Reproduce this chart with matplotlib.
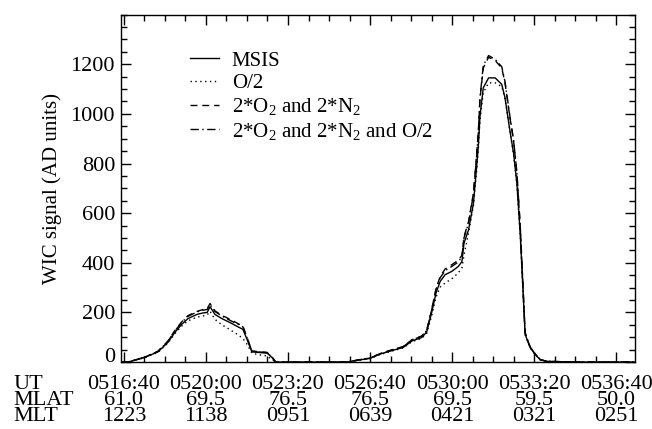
import matplotlib
matplotlib.use("Agg")
import matplotlib.pyplot as plt
import matplotlib.transforms as mtransforms
from matplotlib.ticker import MultipleLocator

plt.rcParams["font.family"] = ["Liberation Serif", "DejaVu Serif"]
plt.rcParams["mathtext.fontset"] = "custom"
plt.rcParams["mathtext.rm"] = "Liberation Serif"
plt.rcParams["mathtext.it"] = "Liberation Serif:italic"
plt.rcParams["font.size"] = 16

# UT in seconds of day
ut_sec = [18995, 19010, 19051, 19083, 19107, 19124, 19141, 19156, 19178, 19193,
          19203, 19210, 19222, 19239, 19259, 19278, 19290, 19300, 19312, 19327,
          19349, 19361, 19370, 19450, 19543, 19576, 19600, 19624, 19657, 19681,
          19702, 19726, 19738, 19750, 19761, 19771, 19783, 19799, 19815, 19824,
          19829, 19840, 19852, 19860, 19864, 19868, 19876, 19889, 19905, 19921,
          19929, 19941, 19950, 19958, 19966, 19972, 19978, 19990, 20002, 20015,
          20031, 20100, 20246]

msis = [0, 0, 19, 41, 79, 119, 152, 175, 192, 198,
        200, 223, 192, 175, 159, 142, 132, 92, 41, 39,
        36, 19, 0, 0, 0, 9, 15, 32, 48, 59,
        85, 99, 121, 198, 279, 325, 352, 365, 385, 405,
        479, 532, 639, 790, 870, 990, 1105, 1145, 1145, 1119,
        1065, 932, 840, 719, 519, 319, 112, 59, 32, 9,
        3, 0, 0]

o_half = [0, 0, 18, 39, 76, 114, 145, 166, 181, 186,
          190, 205, 172, 150, 130, 110, 95, 72, 36, 30,
          25, 10, 0, 0, 0, 8, 14, 30, 46, 57,
          82, 96, 115, 185, 262, 302, 319, 335, 359, 380,
          430, 520, 630, 775, 860, 975, 1085, 1125, 1125, 1110,
          1060, 930, 835, 715, 515, 315, 110, 58, 31, 9,
          3, 0, 0]

o2_n2 = [0, 0, 20, 44, 84, 127, 162, 187, 204, 212,
         215, 236, 206, 188, 172, 155, 145, 100, 45, 42,
         39, 20, 0, 0, 0, 10, 16, 34, 51, 63,
         90, 105, 128, 210, 297, 345, 375, 392, 410, 430,
         505, 565, 680, 840, 930, 1060, 1185, 1228, 1215, 1185,
         1125, 985, 890, 760, 550, 335, 118, 62, 34, 10,
         3, 0, 0]

o2_n2_ohalf = [0, 0, 20, 43, 83, 125, 160, 184, 202, 209,
               212, 232, 204, 185, 168, 152, 142, 98, 44, 41,
               38, 20, 0, 0, 0, 10, 16, 34, 51, 62,
               89, 104, 127, 208, 294, 340, 368, 385, 403, 425,
               500, 560, 675, 835, 925, 1065, 1195, 1235, 1220, 1190,
               1130, 990, 893, 765, 552, 337, 119, 62, 34, 10,
               3, 0, 0]

tick_sec = [19000, 19200, 19400, 19600, 19800, 20000, 20200]
ut_labels = ["0516:40", "0520:00", "0523:20", "0526:40", "0530:00", "0533:20", "0536:40"]
mlat_labels = ["61.0", "69.5", "76.5", "76.5", "69.5", "59.5", "50.0"]
mlt_labels = ["1223", "1138", "0951", "0639", "0421", "0321", "0251"]

fig = plt.figure(figsize=(6.52, 4.29), dpi=100)
ax = fig.add_axes([0.185, 0.156, 0.789, 0.810])

ax.plot(ut_sec, msis, color="black", lw=1.0, ls="-", label="MSIS")
ax.plot(ut_sec, o_half, color="black", lw=1.0, ls=(0, (1, 2.5)), label="O/2")
ax.plot(ut_sec, o2_n2, color="black", lw=1.0, ls=(0, (5, 3.5)), label="2*O$_2$ and 2*N$_2$")
ax.plot(ut_sec, o2_n2_ohalf, color="black", lw=1.0, ls=(0, (6, 2.5, 1, 2.5)),
        label="2*O$_2$ and 2*N$_2$ and O/2")

ax.set_xlim(18992, 20246)
ax.set_ylim(0, 1400)
ax.set_xticks(tick_sec)
ax.set_xticklabels([f"{u}\n{a}\n{m}" for u, a, m in zip(ut_labels, mlat_labels, mlt_labels)])
for lbl in ax.get_xticklabels():
    lbl.set_linespacing(0.8)
ax.xaxis.set_minor_locator(MultipleLocator(50))
ax.set_yticks(range(0, 1201, 200))
ax.yaxis.set_minor_locator(MultipleLocator(50))
ax.tick_params(which="both", direction="in", top=True, right=True, width=1.0)
ax.tick_params(which="major", length=7)
ax.tick_params(which="minor", length=4)
ax.tick_params(axis="x", pad=9)
ax.tick_params(axis="y", pad=4)
for sp in ax.spines.values():
    sp.set_linewidth(1.0)

# the "0" label sits a little above its tick in the original
zero_lbl = ax.get_yticklabels()[0]
zero_lbl.set_transform(zero_lbl.get_transform() +
                       mtransforms.ScaledTranslation(0, 5 / 72, fig.dpi_scale_trans))

ax.set_ylabel("WIC signal (AD units)", fontsize=15, labelpad=6)

fig.text(13 / 652, 1 - 375 / 429, "UT\nMLAT\nMLT", ha="left", va="top", linespacing=0.8)

ax.legend(loc="upper left", bbox_to_anchor=(0.115, 0.925), frameon=False, fontsize=15,
          handlelength=1.4, handletextpad=0.6, labelspacing=0.15, borderpad=0)

fig.savefig("out.png", dpi=100)
